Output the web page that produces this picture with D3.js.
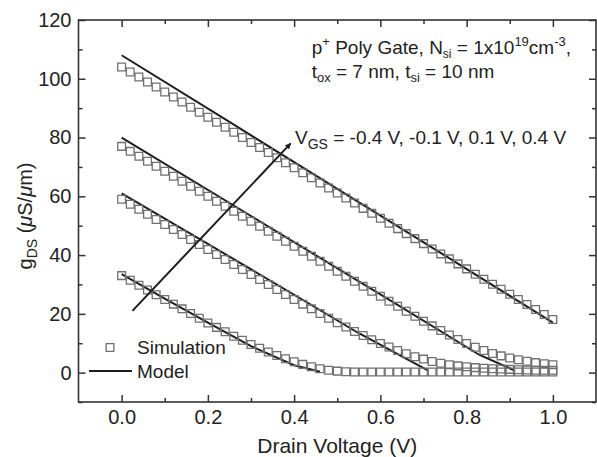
<!DOCTYPE html>
<html><head><meta charset="utf-8">
<script src="https://cdn.jsdelivr.net/npm/d3@7"></script>
<style>
body{margin:0;background:#fff}
svg{display:block}
text{font-family:"Liberation Sans",Arial,Helvetica,sans-serif;fill:#222}
</style>
</head><body>
<svg id="chart" width="597" height="457"></svg>
<script>
// ---- data ----
const drainVoltage = [0.00,0.02,0.04,0.06,0.08,0.10,0.12,0.14,0.16,0.18,0.20,0.22,0.24,0.26,0.28,0.30,0.32,0.34,0.36,0.38,0.40,0.42,0.44,0.46,0.48,0.50,0.52,0.54,0.56,0.58,0.60,0.62,0.64,0.66,0.68,0.70,0.72,0.74,0.76,0.78,0.80,0.82,0.84,0.86,0.88,0.90,0.92,0.94,0.96,0.98,1.00];

const simVgsP04 = [104.0,102.3,100.6,98.9,97.2,95.5,93.8,92.1,90.3,88.6,86.9,85.2,83.5,81.8,80.0,78.3,76.6,74.9,73.1,71.4,69.7,68.0,66.3,64.5,62.8,61.1,59.4,57.7,55.9,54.2,52.5,50.8,49.0,47.3,45.6,43.9,42.1,40.4,38.7,37.0,35.3,33.5,31.8,30.1,28.4,26.7,24.9,23.2,21.5,19.8,18.1];
const simVgsP01 = [77.0,75.3,73.6,71.9,70.2,68.5,66.8,65.1,63.4,61.7,60.0,58.3,56.6,54.9,53.2,51.5,49.8,48.1,46.4,44.7,43.0,41.3,39.6,37.9,36.2,34.5,32.8,31.1,29.4,27.7,26.0,24.3,22.6,20.9,19.2,17.5,15.9,14.3,12.8,11.3,9.9,8.6,7.5,6.5,5.7,5.0,4.4,3.9,3.4,3.0,2.7];
const simVgsM01 = [59.0,57.3,55.6,53.9,52.1,50.4,48.7,47.0,45.3,43.6,41.9,40.2,38.5,36.8,35.1,33.4,31.7,30.0,28.3,26.6,24.9,23.3,21.7,20.1,18.5,17.0,15.5,14.0,12.6,11.2,9.9,8.7,7.5,6.4,5.4,4.6,3.8,3.2,2.7,2.3,2.0,1.7,1.5,1.3,1.2,1.1,1.0,0.9,0.8,0.8,0.8];
const simVgsM04 = [33.0,31.4,29.7,28.1,26.5,24.9,23.3,21.7,20.1,18.5,16.9,15.4,13.9,12.4,11.0,9.6,8.3,7.0,5.8,4.7,3.7,2.8,2.0,1.3,0.8,0.5,0.3,0.2,0.2,0.2,0.2,0.2,0.2,0.2,0.2,0.2,0.2,0.2,0.2,0.2,0.2,0.2,0.2,0.2,0.2,0.2,0.2,0.2,0.2,0.2,0.2];

const modelVP04 = [0.00,0.25,0.50,0.75,1.00];
const modelGP04 = [108.0,85.3,62.5,39.8,17.0];
const modelVP01 = [0.00,0.30,0.60,0.83,0.91];
const modelGP01 = [80.0,53.3,26.6,6.0,0.8];
const modelVM01 = [0.00,0.20,0.40,0.55,0.71];
const modelGM01 = [61.0,43.8,26.5,13.4,0.8];
const modelVM04 = [0.00,0.10,0.20,0.30,0.40,0.46];
const modelGM04 = [33.5,25.2,17.0,9.0,2.5,0.3];

const xMajorTicks = [0.0,0.2,0.4,0.6,0.8,1.0];
const xMinorTicks = [0.1,0.3,0.5,0.7,0.9];
const yMajorTicks = [0,20,40,60,80,100,120];
const yMinorTicks = [-10,10,30,50,70,90,110];

const arrowV = [0.025,0.392];
const arrowG = [21,78];

// ---- chart ----
const svg = d3.select("#chart");
const L=78.5, R=596, T=20, B=402;
const x = d3.scaleLinear().domain([-0.1,1.1]).range([L,R]);
const y = d3.scaleLinear().domain([-10,120]).range([B,T]);

const axisColor="#333";
function styleAxis(g){
  g.select(".domain").remove();
  g.selectAll(".tick line").attr("stroke",axisColor).attr("stroke-width",1.5);
  g.selectAll(".tick text").attr("font-size",20).attr("fill","#222")
    .attr("font-family",'"Liberation Sans",Arial,sans-serif');
}
// bottom
svg.append("g").attr("transform",`translate(0,${B})`)
  .call(d3.axisBottom(x).tickValues(xMajorTicks).tickSize(-7).tickPadding(8).tickFormat(d3.format(".1f"))).call(styleAxis);
svg.append("g").attr("transform",`translate(0,${B})`)
  .call(d3.axisBottom(x).tickValues(xMinorTicks).tickSize(-4).tickFormat("")).call(styleAxis);
// top
svg.append("g").attr("transform",`translate(0,${T})`)
  .call(d3.axisTop(x).tickValues(xMajorTicks).tickSize(-7).tickFormat("")).call(styleAxis);
svg.append("g").attr("transform",`translate(0,${T})`)
  .call(d3.axisTop(x).tickValues(xMinorTicks).tickSize(-4).tickFormat("")).call(styleAxis);
// left
svg.append("g").attr("transform",`translate(${L},0)`)
  .call(d3.axisLeft(y).tickValues(yMajorTicks).tickSize(-7).tickPadding(7).tickFormat(d3.format("d"))).call(styleAxis);
svg.append("g").attr("transform",`translate(${L},0)`)
  .call(d3.axisLeft(y).tickValues(yMinorTicks).tickSize(-4).tickFormat("")).call(styleAxis);
// right
svg.append("g").attr("transform",`translate(${R},0)`)
  .call(d3.axisRight(y).tickValues(yMajorTicks).tickSize(-7).tickFormat("")).call(styleAxis);
svg.append("g").attr("transform",`translate(${R},0)`)
  .call(d3.axisRight(y).tickValues(yMinorTicks).tickSize(-4).tickFormat("")).call(styleAxis);

svg.append("rect").attr("x",L).attr("y",T).attr("width",R-L).attr("height",B-T)
  .attr("fill","none").attr("stroke",axisColor).attr("stroke-width",1.6);

// model lines
const line = d3.line().x(d=>x(d[0])).y(d=>y(d[1]));
[[modelVP04,modelGP04],[modelVP01,modelGP01],[modelVM01,modelGM01],[modelVM04,modelGM04]].forEach(([vs,gs])=>{
  svg.append("path").datum(vs.map((v,i)=>[v,gs[i]]))
    .attr("d",line).attr("fill","none").attr("stroke","#1e1e1e").attr("stroke-width",2);
});

// simulation squares
const sq = d3.symbol().type(d3.symbolSquare).size(60);
[simVgsP04,simVgsP01,simVgsM01,simVgsM04].forEach(series=>{
  svg.append("g").selectAll("path").data(series).join("path")
    .attr("d",sq)
    .attr("transform",(d,i)=>`translate(${x(drainVoltage[i])},${y(d)})`)
    .attr("fill","none").attr("stroke","#707070").attr("stroke-width",1.3);
});

// arrow
svg.append("defs").append("marker").attr("id","ah").attr("viewBox","0 0 10 10")
  .attr("refX",9).attr("refY",5).attr("markerWidth",6).attr("markerHeight",6)
  .attr("orient","auto").attr("markerUnits","userSpaceOnUse")
  .append("path").attr("d","M0,0 L10,5 L0,10 z").attr("fill","#1e1e1e");
svg.append("line")
  .attr("x1",x(arrowV[0])).attr("y1",y(arrowG[0]))
  .attr("x2",x(arrowV[1])).attr("y2",y(arrowG[1]))
  .attr("stroke","#1e1e1e").attr("stroke-width",2).attr("marker-end","url(#ah)");

// annotations
const t1 = svg.append("text").attr("x",311.7).attr("y",54).attr("font-size",19);
t1.append("tspan").text("p");
t1.append("tspan").attr("dy",-8).attr("font-size",13).text("+");
t1.append("tspan").attr("dy",8).text(" Poly Gate, N");
t1.append("tspan").attr("dy",3.5).attr("font-size",12).text("si");
t1.append("tspan").attr("dy",-3.5).text(" = 1x10");
t1.append("tspan").attr("dy",-8).attr("font-size",13).text("19");
t1.append("tspan").attr("dy",8).text("cm");
t1.append("tspan").attr("dy",-8).attr("font-size",13).text("-3");
t1.append("tspan").attr("dy",8).text(",");

const t2 = svg.append("text").attr("x",311.7).attr("y",77.5).attr("font-size",19);
t2.append("tspan").text("t");
t2.append("tspan").attr("dy",4.5).attr("font-size",13).text("ox");
t2.append("tspan").attr("dy",-4.5).text(" = 7 nm, t");
t2.append("tspan").attr("dy",4.5).attr("font-size",13).text("si");
t2.append("tspan").attr("dy",-4.5).text(" = 10 nm");

const t3 = svg.append("text").attr("x",295).attr("y",144).attr("font-size",19);
t3.append("tspan").text("V");
t3.append("tspan").attr("dy",5).attr("font-size",14).text("GS");
t3.append("tspan").attr("dy",-5).text(" = -0.4 V, -0.1 V, 0.1 V, 0.4 V");

// legend
svg.append("path").attr("d",sq).attr("transform","translate(110,347.5)")
  .attr("fill","none").attr("stroke","#707070").attr("stroke-width",1.3);
svg.append("text").attr("x",137).attr("y",354).attr("font-size",19).text("Simulation");
svg.append("line").attr("x1",89).attr("x2",132).attr("y1",371).attr("y2",371)
  .attr("stroke","#1e1e1e").attr("stroke-width",2);
svg.append("text").attr("x",137).attr("y",377.5).attr("font-size",19).text("Model");

// axis titles
svg.append("text").attr("x",(L+R)/2).attr("y",453).attr("text-anchor","middle")
  .attr("font-size",21).text("Drain Voltage (V)");
const yt = svg.append("text").attr("transform","translate(32,216) rotate(-90)")
  .attr("text-anchor","middle").attr("font-size",20);
yt.append("tspan").text("g");
yt.append("tspan").attr("dy",5).attr("font-size",14).text("DS");
yt.append("tspan").attr("dy",-5).text(" (");
yt.append("tspan").attr("font-style","italic").text("μ");
yt.append("tspan").text("S/");
yt.append("tspan").attr("font-style","italic").text("μ");
yt.append("tspan").text("m)");
</script>
</body></html>
